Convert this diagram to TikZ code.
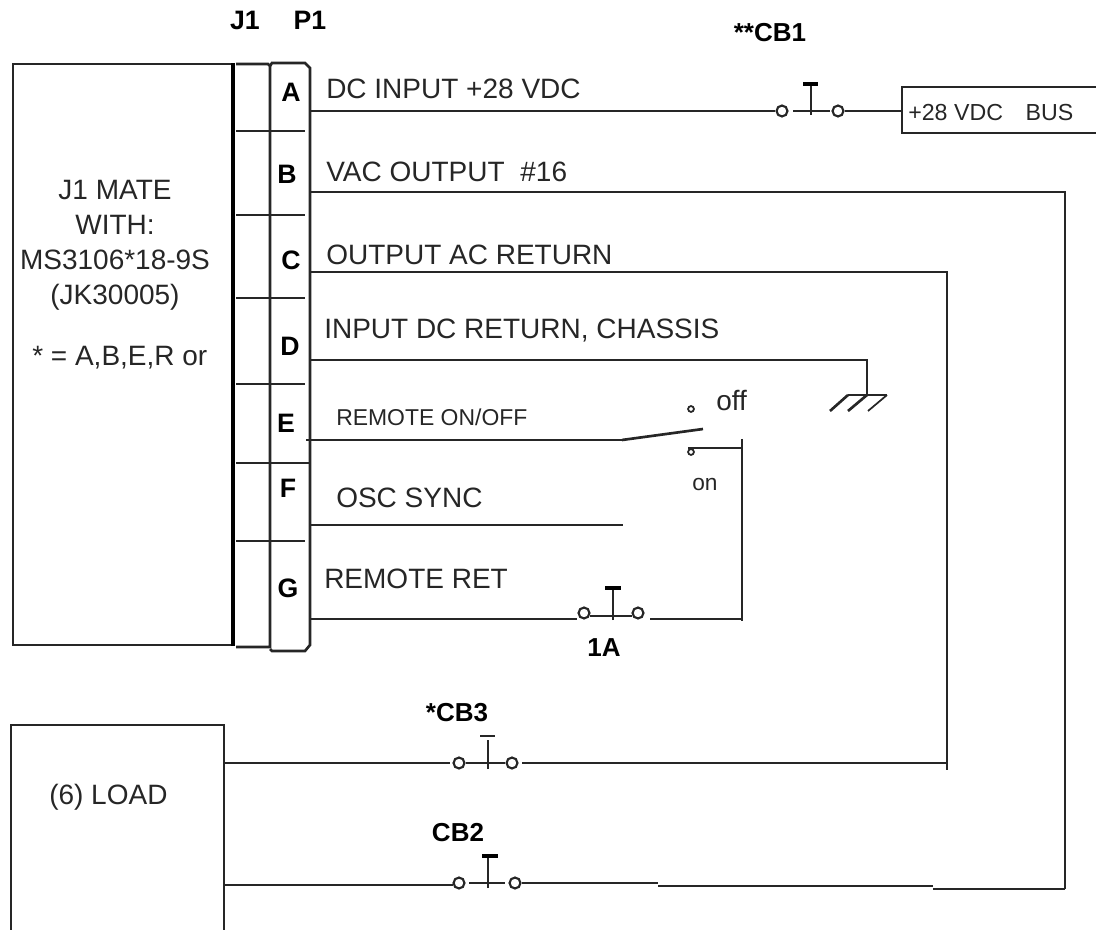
\documentclass[tikz,border=0pt]{standalone}
\usepackage{fontspec}
\setmainfont{Liberation Sans}
\definecolor{ink}{gray}{0.15}
\tikzset{
 x=0.75pt,y=-0.75pt,
 wire/.style={draw=ink,line width=2pt},
 box/.style={draw=ink,line width=2pt,line join=miter},
 lab/.style={font=\fontsize{21}{24}\selectfont,anchor=west,inner sep=0pt,text=ink},
 smalllab/.style={font=\fontsize{17.2}{20}\selectfont,anchor=west,inner sep=0pt,text=ink},
 pin/.style={font=\bfseries\fontsize{20}{22}\selectfont,inner sep=0pt,text=black},
 term/.style={circle,draw=ink,line width=1.6pt,fill=white,minimum size=8.2pt,inner sep=0pt},
 tinyterm/.style={circle,draw=ink,line width=1.3pt,fill=white,minimum size=4.4pt,inner sep=0pt},
 cbname/.style={font=\bfseries\fontsize{19.5}{22}\selectfont,inner sep=0pt,text=black},
}
\begin{document}
\begin{tikzpicture}
\useasboundingbox (0,0) rectangle (1096,930);
% connector bodies
\draw[box] (13,64) rectangle (233,645);
\draw[draw=black,line width=3.2pt] (233,63) -- (233,646);
\draw[box] (236,64) -- (268,64) -- (270,66) -- (270,647) -- (236,647);
\draw[box] (270,66) -- (272,63) -- (305,63) -- (310,68) -- (310,645) -- (305,651) -- (272,651) -- (270,649);
\foreach \y in {131,215,298,384,541} \draw[box] (236,\y) -- (305,\y);
\draw[box] (236,463) -- (310,463);
% load box, open at the bottom edge
\draw[box] (11,930) -- (11,725) -- (224,725) -- (224,930);
% bus box, open at the right edge
\draw[box] (1096,87) -- (902,87) -- (902,133) -- (1096,133);
\node[font=\fontsize{17.4}{20}\selectfont,anchor=west,inner sep=0pt,text=ink] (bus) at (908,113) {+28 VDC\hspace{17pt}BUS};
% pin labels
\node[pin] (pa) at (291,92) {A};
\node[pin] (pb) at (287,174) {B};
\node[pin] (pc) at (291,260) {C};
\node[pin] (pd) at (290,346) {D};
\node[pin] (pe) at (286,423) {E};
\node[pin] (pf) at (288,488) {F};
\node[pin] (pg) at (288,588) {G};
\node[pin] (j1) at (245,20) {J1};
\node[pin] (p1) at (310,20) {P1};
% text
\node[font=\fontsize{21}{26.3}\selectfont,align=center,text=ink,inner sep=0pt] (matetxt) at (115,245) {J1 MATE\\WITH:\\MS3106*18-9S\\(JK30005)};
\node[lab] (star) at (32,358) {* = A,B,E,R or};
\node[lab] (la) at (326,89) {DC INPUT +28 VDC};
\node[lab] (lb) at (326,172) {VAC OUTPUT\hspace{6pt} \#16};
\node[lab] (lc) at (326,255) {OUTPUT AC RETURN};
\node[lab] (ld) at (324,331) {INPUT DC RETURN, CHASSIS};
\node[smalllab] (le) at (336,417) {REMOTE ON/OFF};
\node[lab] (lf) at (336,498) {OSC SYNC};
\node[lab] (lg) at (324,579) {REMOTE RET};
\node[lab] (load) at (49,797) {(6) LOAD};
\node[lab] (off) at (716,401) {off};
\node[lab,font=\fontsize{17}{20}\selectfont] (on) at (692,485) {on};
\node[cbname] (cb1) at (770,33) {**CB1};
\node[cbname] (cb3) at (457,713) {*CB3};
\node[cbname] (cb2) at (458,833) {CB2};
\node[cbname] (ca) at (604,648) {1A};
% free ends on the connector and boxes
\coordinate (ja) at (310,111);
\coordinate (jb) at (310,192);
\coordinate (jc) at (310,272);
\coordinate (jd) at (310,360);
\coordinate (je) at (306,440);
\coordinate (jf) at (310,525);
\coordinate (jg) at (310,619);
\coordinate (busw) at (902,111);
\coordinate (loadu) at (224,763);
\coordinate (loadl) at (224,885);
% CB1
\node[term] (ta1) at (782,111) {};
\node[term] (ta2) at (838,111) {};
\draw[wire] (ja) -- (ta1);
\draw[wire] (ta2) -- (busw);
\draw[wire] (793,111) -- (830,111);
\draw[wire] (811,115) -- (811,84);
\draw[draw=black,line width=3.4pt] (803,84) -- (818,84);
% VAC output and CB2
\node[term] (tb1) at (459,883) {};
\node[term] (tb2) at (515,883) {};
\coordinate (rb) at (1065,192);
\coordinate (rbb) at (1065,889);
\draw[wire] (jb) -- (rb) -- (rbb);
\draw[wire] (rbb) -- (933,889);
\draw[wire] (933,886) -- (658,886);
\draw[wire] (658,883) -- (tb2);
\draw[wire] (loadl) -- (453,885);
\draw[wire] (469,883) -- (505,883);
\draw[wire] (488,888) -- (488,856);
\draw[draw=black,line width=3.4pt] (482,856) -- (498,856);
% output AC return and CB3
\node[term] (tc1) at (459,763) {};
\node[term] (tc2) at (512,763) {};
\coordinate (rc) at (947,272);
\coordinate (rcb) at (947,770);
\draw[wire] (jc) -- (rc) -- (rcb);
\draw[wire] (947,763) -- (522,763);
\draw[wire] (loadu) -- (450,763);
\draw[wire] (466,763) -- (505,763);
\draw[wire] (488,769) -- (488,740);
\draw[wire] (480,736) -- (495,736);
% ground
\coordinate (gnd) at (867,395);
\draw[wire] (jd) -- (867,360) -- (gnd);
\draw[wire] (848,395) -- (887,395);
\draw[wire] (848,395) -- (830,411);
\draw[wire] (867,395) -- (848,411);
\draw[draw=ink,line width=1.3pt] (887,395) -- (868,411);
% switch
\node[tinyterm] (toff) at (691,409) {};
\node[tinyterm] (ton) at (691,452) {};
\coordinate (swh) at (622,440);
\coordinate (swt) at (703,429);
\coordinate (onr) at (742,448);
\draw[wire] (je) -- (swh);
\draw[wire] (swh) -- (swt);
\draw[wire] (688,448) -- (onr);
\draw[wire] (742,439) -- (742,621);
% OSC sync
\coordinate (fe) at (623,525);
\draw[wire] (jf) -- (fe);
% 1A
\node[term] (tg1) at (584,613) {};
\node[term] (tg2) at (638,613) {};
\draw[wire] (jg) -- (577,619);
\draw[wire] (650,619) -- (742,619);
\draw[wire] (590,616) -- (632,616);
\draw[wire] (613,620) -- (613,588);
\draw[draw=black,line width=3.4pt] (605,588) -- (621,588);
\end{tikzpicture}
\end{document}
